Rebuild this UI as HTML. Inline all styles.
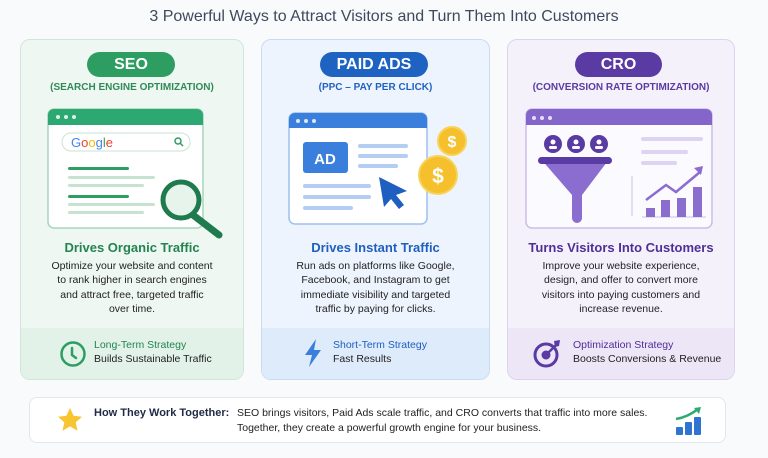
<!DOCTYPE html>
<html><head><style>
*{margin:0;padding:0;box-sizing:border-box}
body{width:768px;height:458px;background:#f9fafb;font-family:"Liberation Sans",sans-serif;position:relative;overflow:hidden;color:#222}
.abs{position:absolute}
h1{position:absolute;top:8px;left:0;width:768px;text-align:center;font-size:16px;font-weight:normal;color:#3e4a5c}
.card{position:absolute;top:39px;height:341px;border-radius:10px;overflow:hidden}
.pill{position:absolute;top:12px;height:25px;border-radius:13px;color:#fff;font-weight:bold;font-size:16px;text-align:center;line-height:25px}
.sub{position:absolute;top:42px;left:0;width:100%;text-align:center;font-size:10px;font-weight:bold}
.tt{position:absolute;top:200px;left:0;width:100%;text-align:center;font-size:13px;font-weight:bold}
.bd{position:absolute;top:219px;left:0;width:100%;text-align:center;font-size:10.5px;line-height:14.3px;color:#222}
.band{position:absolute;top:288px;left:0;width:100%;height:53px}
.bt{position:absolute;top:11px;font-size:10.5px;line-height:13.5px}
</style></head><body>
<h1>3 Powerful Ways to Attract Visitors and Turn Them Into Customers</h1>

<div class="card" style="left:20px;width:224px;background:#eff7f2;border:1px solid #cfe6d8">
<div class="pill" style="left:66px;width:88px;background:#2e9d62">SEO</div>
<div class="sub" style="color:#2e8b57">(SEARCH ENGINE OPTIMIZATION)</div>
<svg class="abs" style="left:0;top:0" width="224" height="200">
<rect x="27" y="69" width="155" height="119" rx="6" fill="#fff" stroke="#a6d5ba" stroke-width="1.5"/>
<path d="M27 75a6 6 0 0 1 6-6h143a6 6 0 0 1 6 6v10H27z" fill="#2ea872"/>
<circle cx="37" cy="77" r="2" fill="#d9f1e4"/><circle cx="45" cy="77" r="2" fill="#d9f1e4"/><circle cx="53" cy="77" r="2" fill="#d9f1e4"/>
<rect x="41" y="93" width="128" height="18" rx="9" fill="#fff" stroke="#c9e2d4"/>
<text x="50" y="107" font-size="13" font-family="Liberation Sans"><tspan fill="#4285f4">G</tspan><tspan fill="#ea4335">o</tspan><tspan fill="#fbbc05">o</tspan><tspan fill="#4285f4">g</tspan><tspan fill="#34a853">l</tspan><tspan fill="#ea4335">e</tspan></text>
<circle cx="157" cy="101" r="3" fill="none" stroke="#2e9d62" stroke-width="1.5"/><line x1="159" y1="103" x2="162" y2="106" stroke="#2e9d62" stroke-width="1.5"/>
<rect x="47" y="127" width="61" height="3" rx="1.5" fill="#2e9d62"/>
<rect x="47" y="136" width="87" height="3" rx="1.5" fill="#c6e3d2"/>
<rect x="47" y="144" width="76" height="3" rx="1.5" fill="#c6e3d2"/>
<rect x="47" y="155" width="61" height="3" rx="1.5" fill="#2e9d62"/>
<rect x="47" y="163" width="87" height="3" rx="1.5" fill="#c6e3d2"/>
<rect x="47" y="171" width="76" height="3" rx="1.5" fill="#c6e3d2"/>
<line x1="172" y1="175" x2="198" y2="195" stroke="#1f7a4d" stroke-width="7" stroke-linecap="round"/>
<circle cx="160" cy="160" r="18" fill="#e6f4ec" stroke="#1f7a4d" stroke-width="5"/>
</svg>
<div class="tt" style="color:#23844f">Drives Organic Traffic</div>
<div class="bd">Optimize your website and content<br>to rank higher in search engines<br>and attract free, targeted traffic<br>over time.</div>
<div class="band" style="background:#e2f2e8">
<svg class="abs" style="left:38px;top:12px" width="28" height="28"><circle cx="14" cy="14" r="11.5" fill="none" stroke="#2e9d62" stroke-width="2.5"/><path d="M13 8v7l4 3" fill="none" stroke="#2e9d62" stroke-width="2.5" stroke-linecap="round"/></svg>
<div class="bt" style="left:73px"><span style="color:#23844f">Long-Term Strategy</span><br>Builds Sustainable Traffic</div>
</div>
</div>

<div class="card" style="left:261px;width:229px;background:#eef4fd;border:1px solid #c9dbf3">
<div class="pill" style="left:58px;width:108px;background:#1f63c2">PAID ADS</div>
<div class="sub" style="color:#1f63c2">(PPC – PAY PER CLICK)</div>
<svg class="abs" style="left:0;top:0" width="229" height="200">
<rect x="27" y="73" width="138" height="111" rx="6" fill="#fff" stroke="#9dc0ee" stroke-width="1.5"/>
<path d="M27 79a6 6 0 0 1 6-6h126a6 6 0 0 1 6 6v9H27z" fill="#3a7fdc"/>
<circle cx="36" cy="81" r="2" fill="#dbe8fb"/><circle cx="44" cy="81" r="2" fill="#dbe8fb"/><circle cx="52" cy="81" r="2" fill="#dbe8fb"/>
<rect x="41" y="102" width="45" height="31" rx="3" fill="#3a7fdc"/>
<text x="63" y="124" text-anchor="middle" font-size="15" font-weight="bold" fill="#fff" font-family="Liberation Sans">AD</text>
<rect x="96" y="104" width="50" height="4" rx="2" fill="#b3cef2"/>
<rect x="96" y="114" width="50" height="4" rx="2" fill="#b3cef2"/>
<rect x="96" y="124" width="40" height="4" rx="2" fill="#b3cef2"/>
<rect x="41" y="144" width="68" height="4" rx="2" fill="#b3cef2"/>
<rect x="41" y="155" width="68" height="4" rx="2" fill="#b3cef2"/>
<rect x="41" y="166" width="50" height="4" rx="2" fill="#b3cef2"/>
<path d="M117 137l28 14-11 4 8 10-5 4-8-10-7 8z" fill="#1f5fbf"/>
<circle cx="190" cy="101" r="14" fill="#f5c02c" stroke="#f8d35a" stroke-width="2"/>
<text x="190" y="107" text-anchor="middle" font-size="16" font-weight="bold" fill="#fff" font-family="Liberation Sans">$</text>
<circle cx="176" cy="135" r="19" fill="#f5c02c" stroke="#f8d35a" stroke-width="2"/>
<text x="176" y="143" text-anchor="middle" font-size="21" font-weight="bold" fill="#fff" font-family="Liberation Sans">$</text>
</svg>
<div class="tt" style="color:#1f5fbf">Drives Instant Traffic</div>
<div class="bd">Run ads on platforms like Google,<br>Facebook, and Instagram to get<br>immediate visibility and targeted<br>traffic by paying for clicks.</div>
<div class="band" style="background:#deebfa">
<svg class="abs" style="left:41px;top:10px" width="22" height="30"><path d="M13 1L2 17h7l-3 12 12-17h-7z" fill="#3a7fdc"/></svg>
<div class="bt" style="left:71px"><span style="color:#1f5fbf">Short-Term Strategy</span><br>Fast Results</div>
</div>
</div>

<div class="card" style="left:507px;width:228px;background:#f4f1fb;border:1px solid #dcd3f0">
<div class="pill" style="left:67px;width:87px;background:#5a3aa3">CRO</div>
<div class="sub" style="color:#5a3aa3">(CONVERSION RATE OPTIMIZATION)</div>
<svg class="abs" style="left:0;top:0" width="228" height="200">
<rect x="18" y="69" width="186" height="119" rx="6" fill="#fbfaff" stroke="#cbbde9" stroke-width="1.5"/>
<path d="M18 75a6 6 0 0 1 6-6h174a6 6 0 0 1 6 6v10H18z" fill="#8465c9"/>
<circle cx="26" cy="78" r="2" fill="#e7def8"/><circle cx="34" cy="78" r="2" fill="#e7def8"/><circle cx="42" cy="78" r="2" fill="#e7def8"/>
<g fill="#5a3aa3"><circle cx="45" cy="104" r="9"/><circle cx="68" cy="104" r="9"/><circle cx="91" cy="104" r="9"/></g>
<g fill="#fff"><circle cx="45" cy="102" r="2.5"/><circle cx="68" cy="102" r="2.5"/><circle cx="91" cy="102" r="2.5"/><rect x="41" y="106" width="8" height="3" rx="1.5"/><rect x="64" y="106" width="8" height="3" rx="1.5"/><rect x="87" y="106" width="8" height="3" rx="1.5"/></g>
<path d="M32 118h70l-28 37v23a5 5 0 0 1-10 0v-23z" fill="#8b6dd0"/>
<rect x="30" y="117" width="74" height="7" rx="3.5" fill="#5a3aa3"/>
<rect x="133" y="97" width="62" height="4" rx="2" fill="#ddd3f3"/>
<rect x="133" y="110" width="47" height="4" rx="2" fill="#ddd3f3"/>
<rect x="133" y="121" width="36" height="4" rx="2" fill="#ddd3f3"/>
<line x1="124" y1="136" x2="124" y2="176" stroke="#cbbde9"/>
<line x1="134" y1="177" x2="198" y2="177" stroke="#cbbde9"/>
<g fill="#8b6dd0"><rect x="138" y="168" width="9" height="9"/><rect x="153" y="160" width="9" height="17"/><rect x="169" y="158" width="9" height="19"/><rect x="185" y="147" width="9" height="30"/></g>
<path d="M138 160l20-15 10 7 24-20" fill="none" stroke="#8b6dd0" stroke-width="2.5"/>
<path d="M186 128l9-2-2 9z" fill="#8b6dd0"/>
</svg>
<div class="tt" style="color:#4f2f97">Turns Visitors Into Customers</div>
<div class="bd">Improve your website experience,<br>design, and offer to convert more<br>visitors into paying customers and<br>increase revenue.</div>
<div class="band" style="background:#ece6f7">
<svg class="abs" style="left:24px;top:10px" width="32" height="32"><circle cx="14" cy="17" r="11" fill="none" stroke="#5a3aa3" stroke-width="3"/><circle cx="14" cy="17" r="4.5" fill="#5a3aa3"/><path d="M14 17L25 6" stroke="#5a3aa3" stroke-width="2.5"/><path d="M22 3l6-1-1 6-4 1z" fill="#5a3aa3"/></svg>
<div class="bt" style="left:65px"><span style="color:#4f2f97">Optimization Strategy</span><br>Boosts Conversions &amp; Revenue</div>
</div>
</div>

<div class="abs" style="left:29px;top:397px;width:697px;height:46px;background:#fff;border:1px solid #e3e6ea;border-radius:8px">
<svg class="abs" style="left:26px;top:8px" width="28" height="28"><path d="M14 2l3.6 7.8 8.4.9-6.3 5.7 1.8 8.3L14 20.4 6.5 24.7l1.8-8.3L2 10.7l8.4-.9z" fill="#f7c531"/></svg>
<div class="abs" style="left:64px;top:9px;font-size:11px;font-weight:bold;color:#1e2a44">How They Work Together:</div>
<div class="abs" style="left:207px;top:8px;font-size:10.5px;line-height:14.5px;color:#222">SEO brings visitors, Paid Ads scale traffic, and CRO converts that traffic into more sales.<br>Together, they create a powerful growth engine for your business.</div>
<svg class="abs" style="left:644px;top:7px" width="30" height="32"><rect x="2" y="22" width="7" height="8" rx="1" fill="#2f74d0"/><rect x="11" y="17" width="7" height="13" rx="1" fill="#2f74d0"/><rect x="20" y="12" width="7" height="18" rx="1" fill="#2f74d0"/><path d="M2 14Q14 12 24 4" fill="none" stroke="#2eaa6e" stroke-width="2.5"/><path d="M20 3l7-1-2 7z" fill="#2eaa6e"/></svg>
</div>
</body></html>
